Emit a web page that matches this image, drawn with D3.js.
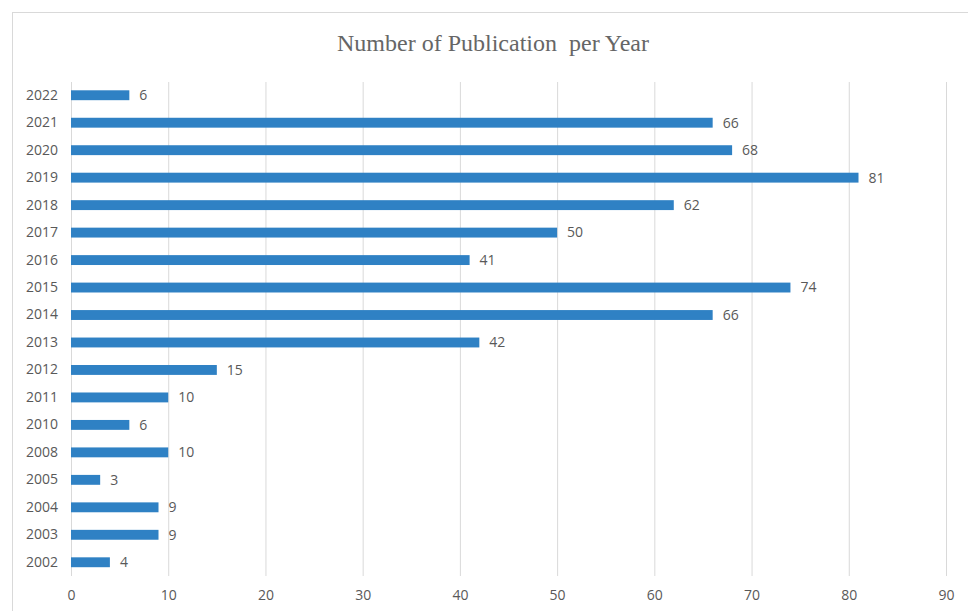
<!DOCTYPE html>
<html><head><meta charset="utf-8">
<script src="https://cdn.jsdelivr.net/npm/d3@7"></script>
<style>body{margin:0;background:#fff}svg{display:block}</style>
</head><body>
<script>
const years = ["2022","2021","2020","2019","2018","2017","2016","2015","2014","2013","2012","2011","2010","2008","2005","2004","2003","2002"];
const counts = [6,66,68,81,62,50,41,74,66,42,15,10,6,10,3,9,9,4];
const xTicks = [0,10,20,30,40,50,60,70,80,90];
const title = "Number of Publication  per Year";

const W = 968, H = 611;
const svg = d3.select("body").append("svg").attr("width", W).attr("height", H);
svg.append("rect").attr("x", 12.5).attr("y", 12.5).attr("width", W).attr("height", H)
  .attr("fill", "#fff").attr("stroke", "#d9d9d9");

const x = d3.scaleLinear().domain([0, 90]).range([71, 946]);
const y = d3.scaleBand().domain(years).range([81.5, 576]).paddingInner(0.64).paddingOuter(0.32);

svg.append("text").attr("x", 493).attr("y", 51).attr("text-anchor", "middle")
  .style("white-space", "pre")
  .attr("font-family", "Liberation Serif, Times New Roman, serif").attr("font-size", 24)
  .attr("fill", "#666").text(title);

const xAxis = svg.append("g").attr("transform", "translate(0,576)")
  .call(d3.axisBottom(x).tickValues(xTicks).tickSize(576 - 82).tickSizeOuter(0).tickPadding(0));
xAxis.select(".domain").remove();
xAxis.selectAll(".tick line").attr("y1", 0).attr("y2", -(576 - 82)).attr("stroke", "#d9d9d9");
xAxis.selectAll(".tick text").attr("y", 24).attr("dy", 0)
  .attr("font-family", "Open Sans, sans-serif").attr("font-size", 14).attr("fill", "#595959");

const yAxis = svg.append("g").attr("transform", "translate(58,0)")
  .call(d3.axisLeft(y).tickSize(0).tickPadding(0));
yAxis.select(".domain").remove();
yAxis.selectAll(".tick text").attr("font-family", "Open Sans, sans-serif").attr("font-size", 14)
  .attr("fill", "#595959");

svg.append("g").selectAll("rect").data(years).join("rect")
  .attr("x", x(0)).attr("y", d => y(d))
  .attr("width", (d, i) => x(counts[i]) - x(0)).attr("height", y.bandwidth())
  .attr("fill", "#2f81c4");

svg.append("g").selectAll("text").data(years).join("text")
  .attr("x", (d, i) => x(counts[i]) + 10).attr("y", d => y(d) + y.bandwidth() / 2)
  .attr("dy", "0.35em")
  .attr("font-family", "Open Sans, sans-serif").attr("font-size", 14).attr("fill", "#595959")
  .text((d, i) => counts[i]);
</script>
</body></html>
